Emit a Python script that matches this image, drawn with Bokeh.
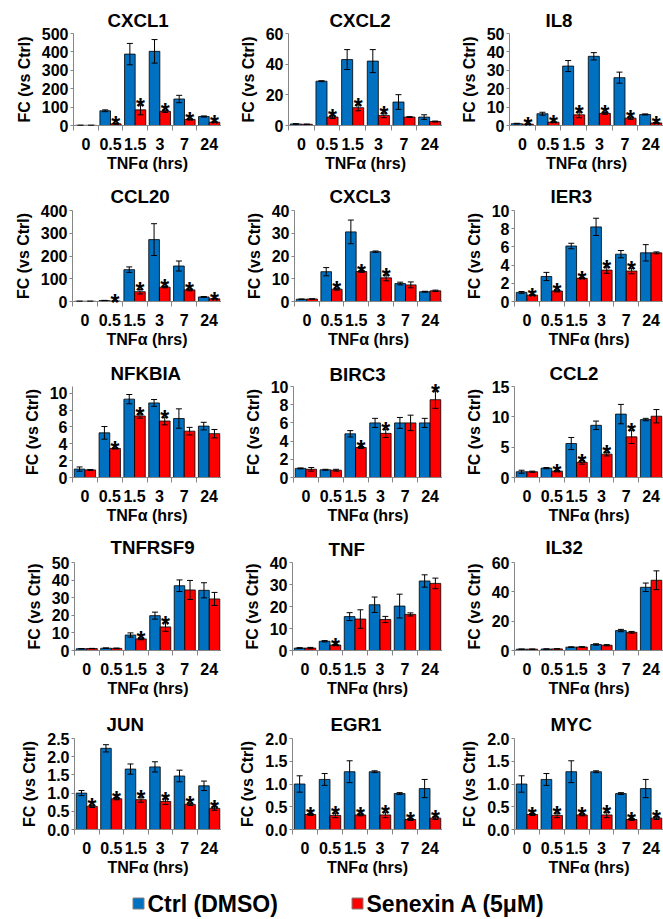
from bokeh.plotting import figure
from bokeh.models import Range1d, FixedTicker, ColumnDataSource, Whisker, TeeHead
from bokeh.layouts import column, row
from bokeh.embed import file_html
from bokeh.resources import INLINE
from bokeh.core.properties import value

# ---------------- data ----------------
times = ["0", "0.5", "1.5", "3", "7", "24"]
x_title = "TNFα (hrs)"
y_title = "FC (vs Ctrl)"
series_names = ["Ctrl (DMSO)", "Senexin A (5μM)"]

genes = ["CXCL1", "CXCL2", "IL8", "CCL20", "CXCL3", "IER3", "NFKBIA", "BIRC3", "CCL2",
         "TNFRSF9", "TNF", "IL32", "JUN", "EGR1", "MYC"]

CXCL1_ctrl = [1, 80, 388, 403, 144, 49]
CXCL1_ctrl_err = [1, 5, 58, 64, 20, 3]
CXCL1_sen = [1, 9, 85, 77, 33, 18]
CXCL1_sen_err = [0.5, 2, 27, 6, 3, 2]
CXCL1_star = [0, 1, 1, 1, 1, 1]
CXCL1_ticks = [0, 100, 200, 300, 400, 500]

CXCL2_ctrl = [1.0, 28.9, 43, 42, 15.3, 5.5]
CXCL2_ctrl_err = [0.2, 0.3, 6.5, 7.5, 4.8, 1.5]
CXCL2_sen = [0.8, 5.5, 11.6, 6.6, 5.5, 2.6]
CXCL2_sen_err = [0.1, 1, 2, 1.5, 0.3, 0.3]
CXCL2_star = [0, 1, 1, 1, 0, 0]
CXCL2_ticks = [0, 20, 40, 60]

IL8_ctrl = [1.0, 6.4, 32.3, 37.6, 26, 6]
IL8_ctrl_err = [0.2, 0.8, 3, 2, 3, 0.3]
IL8_sen = [0.7, 1.8, 5.8, 6.6, 4.0, 1.4]
IL8_sen_err = [0.1, 0.2, 1.6, 0.5, 0.6, 0.2]
IL8_star = [1, 1, 1, 1, 1, 1]
IL8_ticks = [0, 10, 20, 30, 40, 50]

CCL20_ctrl = [1, 4, 140, 272, 156, 20]
CCL20_ctrl_err = [0.3, 1, 12, 70, 22, 2]
CCL20_sen = [1, 2, 43, 63, 51, 12]
CCL20_sen_err = [0.2, 0.5, 10, 3, 4, 1]
CCL20_star = [0, 1, 1, 1, 1, 1]
CCL20_ticks = [0, 100, 200, 300, 400]

CXCL3_ctrl = [1.0, 13.1, 30.6, 21.9, 7.9, 4.3]
CXCL3_ctrl_err = [0.1, 1.8, 5.2, 0.3, 0.6, 0.2]
CXCL3_sen = [1.1, 5.4, 13.2, 10.4, 7.3, 4.7]
CXCL3_sen_err = [0.1, 0.4, 0.4, 1.3, 1.3, 0.3]
CXCL3_star = [0, 1, 1, 1, 0, 0]
CXCL3_ticks = [0, 10, 20, 30, 40]

IER3_ctrl = [1.0, 2.75, 6.1, 8.2, 5.2, 5.35]
IER3_ctrl_err = [0.1, 0.45, 0.3, 0.95, 0.4, 0.9]
IER3_sen = [0.7, 1.15, 2.55, 3.45, 3.35, 5.35]
IER3_sen_err = [0.05, 0.1, 0.05, 0.35, 0.3, 0.1]
IER3_star = [1, 1, 1, 1, 1, 0]
IER3_ticks = [0, 2, 4, 6, 8, 10]

NFKBIA_ctrl = [1.0, 5.3, 9.3, 8.85, 7.0, 6.1]
NFKBIA_ctrl_err = [0.25, 0.75, 0.55, 0.4, 1.15, 0.45]
NFKBIA_sen = [0.9, 3.45, 7.3, 6.7, 5.5, 5.2]
NFKBIA_sen_err = [0.05, 0.05, 0.25, 0.45, 0.45, 0.5]
NFKBIA_star = [0, 1, 1, 1, 0, 0]
NFKBIA_ticks = [0, 2, 4, 6, 8, 10]

BIRC3_ctrl = [1.0, 0.85, 4.8, 6.0, 6.0, 6.0]
BIRC3_ctrl_err = [0.05, 0.05, 0.35, 0.5, 0.6, 0.5]
BIRC3_sen = [0.9, 0.8, 3.3, 4.85, 6.0, 8.55]
BIRC3_sen_err = [0.2, 0.1, 0.1, 0.45, 0.85, 0.95]
BIRC3_star = [0, 0, 1, 1, 0, 1]
BIRC3_ticks = [0, 2, 4, 6, 8, 10]

CCL2_ctrl = [0.95, 1.55, 5.6, 8.6, 10.45, 9.55]
CCL2_ctrl_err = [0.25, 0.1, 1.0, 0.7, 1.6, 0.2]
CCL2_sen = [0.95, 1.05, 2.5, 3.85, 6.7, 10.1]
CCL2_sen_err = [0.1, 0.1, 0.3, 0.3, 1.1, 1.1]
CCL2_star = [0, 1, 1, 1, 1, 0]
CCL2_ticks = [0, 5, 10, 15]

TNFRSF9_ctrl = [1.0, 1.3, 8.8, 19.8, 36.8, 34.2]
TNFRSF9_ctrl_err = [0.1, 0.2, 1.2, 2.0, 3.3, 4.3]
TNFRSF9_sen = [1.1, 1.2, 6.6, 13.4, 34.4, 29.3]
TNFRSF9_sen_err = [0.1, 0.2, 0.5, 2.5, 5.4, 3.7]
TNFRSF9_star = [0, 0, 1, 1, 0, 0]
TNFRSF9_ticks = [0, 10, 20, 30, 40, 50]

TNF_ctrl = [1.1, 4.2, 15.4, 20.8, 20.2, 31.6]
TNF_ctrl_err = [0.2, 0.3, 1.8, 3.5, 5.4, 2.8]
TNF_sen = [1.1, 2.5, 14.3, 14.1, 16.4, 30.5]
TNF_sen_err = [0.3, 0.2, 4.2, 1.4, 0.7, 2.4]
TNF_star = [0, 1, 0, 0, 0, 0]
TNF_ticks = [0, 10, 20, 30, 40]

IL32_ctrl = [0.9, 1.0, 2.3, 4.1, 13.6, 43.1]
IL32_ctrl_err = [0.1, 0.1, 0.2, 0.5, 0.8, 2.9]
IL32_sen = [0.9, 1.1, 2.4, 3.6, 12.4, 47.9]
IL32_sen_err = [0.1, 0.1, 0.2, 0.4, 0.6, 6.4]
IL32_star = [0, 0, 0, 0, 0, 0]
IL32_ticks = [0, 20, 40, 60]

JUN_ctrl = [1.0, 2.23, 1.66, 1.72, 1.47, 1.2]
JUN_ctrl_err = [0.07, 0.1, 0.14, 0.14, 0.16, 0.13]
JUN_sen = [0.635, 0.845, 0.82, 0.77, 0.69, 0.58]
JUN_sen_err = [0.03, 0.03, 0.07, 0.08, 0.03, 0.05]
JUN_star = [1, 1, 1, 1, 1, 1]
JUN_ticks = [0, 0.5, 1.0, 1.5, 2.0, 2.5]

EGR1_ctrl = [1.0, 1.1, 1.27, 1.27, 0.79, 0.9]
EGR1_ctrl_err = [0.18, 0.13, 0.24, 0.02, 0.02, 0.2]
EGR1_sen = [0.33, 0.31, 0.32, 0.32, 0.22, 0.25]
EGR1_sen_err = [0.02, 0.05, 0.02, 0.06, 0.02, 0.03]
EGR1_star = [1, 1, 1, 1, 1, 1]
EGR1_ticks = [0, 0.5, 1.0, 1.5, 2.0]

MYC_ctrl = [1.0, 1.1, 1.27, 1.27, 0.79, 0.9]
MYC_ctrl_err = [0.18, 0.13, 0.24, 0.02, 0.02, 0.2]
MYC_sen = [0.33, 0.31, 0.32, 0.32, 0.22, 0.25]
MYC_sen_err = [0.02, 0.05, 0.02, 0.06, 0.02, 0.03]
MYC_star = [1, 1, 1, 1, 1, 1]
MYC_ticks = [0, 0.5, 1.0, 1.5, 2.0]

decimal_genes = ["JUN", "EGR1", "MYC"]
axis_top = {"NFKBIA": 10.8}

# ---------------- layout (page pixels) ----------------
FONT = "Liberation Sans"
BLUE = "#0070C0"
RED = "#FF0000"
AXIS_COLOR = "#868686"

col_widths = [221, 221, 221]
col_left = [0, 221, 442]
row_heights = [176, 176, 175, 177, 176]
row_top = [0, 176, 352, 527, 704]
# frame-left x, frame-top y, zero-line y, title-center y, title-left x
geom = {
    "CXCL1": (73, 33, 125, 20, 107), "CXCL2": (288, 33, 125, 20, 329), "IL8": (509, 33, 125, 20, 545),
    "CCL20": (72, 210, 301, 195, 110), "CXCL3": (294, 210, 301, 195, 329), "IER3": (514, 210, 301, 195, 550),
    "NFKBIA": (72, 386, 477, 372, 110), "BIRC3": (293, 384, 477, 372, 329), "CCL2": (514, 386, 477, 372, 549),
    "TNFRSF9": (74, 562, 653, 545, 110), "TNF": (292, 558, 650, 545, 328), "IL32": (514, 562, 653, 545, 545),
    "JUN": (74, 738, 829, 723, 106), "EGR1": (292, 738, 829, 723, 330), "MYC": (514, 738, 829, 723, 550),
}
# legend strip (pixel space inside the strip)
legend_h = 39
legend_swatch_x = [138, 357]
legend_text_x = [147, 366]
legend_y = 16
legend_swatch = 11

BAR_W = 0.43


def make_panel(gene, r, c):
    g = globals()
    ctrl, ctrl_err = g[gene + "_ctrl"], g[gene + "_ctrl_err"]
    sen, sen_err = g[gene + "_sen"], g[gene + "_sen_err"]
    star, ticks = g[gene + "_star"], g[gene + "_ticks"]
    fx, ft, fz, ty, tx = geom[gene]
    w, h = col_widths[c], row_heights[r]
    left = fx - col_left[c]
    top = ft - row_top[r]
    bottom = row_top[r] + h - fz
    ymax = axis_top.get(gene, ticks[-1])

    p = figure(width=w, height=h, x_range=Range1d(0, len(times)), y_range=Range1d(0, ymax),
               output_backend="svg", toolbar_location=None,
               min_border_left=left, min_border_right=0, min_border_top=top, min_border_bottom=bottom)
    p.background_fill_color = "white"
    p.border_fill_color = "white"
    p.outline_line_color = None
    p.grid.visible = False

    centers = [i + 0.5 for i in range(len(times))]
    src = ColumnDataSource(dict(
        xc=[x - BAR_W / 2 for x in centers], xs=[x + BAR_W / 2 for x in centers],
        ctrl=ctrl, sen=sen,
        ctrl_lo=[v - e for v, e in zip(ctrl, ctrl_err)], ctrl_hi=[v + e for v, e in zip(ctrl, ctrl_err)],
        sen_lo=[v - e for v, e in zip(sen, sen_err)], sen_hi=[v + e for v, e in zip(sen, sen_err)],
    ))
    p.vbar(x="xc", top="ctrl", bottom=0, width=BAR_W, source=src, fill_color=BLUE, line_color="black", line_width=0.8)
    p.vbar(x="xs", top="sen", bottom=0, width=BAR_W, source=src, fill_color=RED, line_color="black", line_width=0.8)
    for base, lo, hi in (("xc", "ctrl_lo", "ctrl_hi"), ("xs", "sen_lo", "sen_hi")):
        wk = Whisker(source=src, base=base, lower=lo, upper=hi, dimension="height",
                     line_color="black", line_width=1,
                     upper_head=TeeHead(size=6, line_color="black", line_width=1),
                     lower_head=TeeHead(size=6, line_color="black", line_width=1))
        wk.level = "annotation"
        p.add_layout(wk)

    star_src = ColumnDataSource(dict(
        x=[x + BAR_W / 2 for x, s in zip(centers, star) if s],
        y=[v + e for v, e, s in zip(sen, sen_err, star) if s],
        t=["*" for s in star if s],
    ))
    st = p.text(x="x", y="y", text="t", source=star_src, text_font=value(FONT), text_font_style="bold",
                text_font_size="23px", text_align="center", text_baseline="alphabetic",
                y_offset=2, text_color="black")
    st.level = "overlay"

    # x axis
    xa = p.xaxis[0]
    xa.ticker = FixedTicker(ticks=centers, minor_ticks=list(range(len(times) + 1)))
    xa.major_label_overrides = {x: t for x, t in zip(centers, times)}
    xa.major_tick_out = 0
    xa.major_tick_in = 0
    xa.minor_tick_out = 5
    xa.minor_tick_in = 0
    xa.major_label_standoff = 7
    xa.axis_label = x_title
    xa.axis_label_standoff = 2
    # y axis
    ya = p.yaxis[0]
    ya.ticker = FixedTicker(ticks=ticks, minor_ticks=[])
    if gene in decimal_genes:
        ya.major_label_overrides = {t: f"{t:.1f}" for t in ticks}
    ya.major_tick_out = 3
    ya.major_tick_in = 0
    ya.major_label_standoff = 2
    ya.axis_label = y_title
    ya.axis_label_standoff = 6
    for ax in (xa, ya):
        ax.axis_line_color = AXIS_COLOR
        ax.major_tick_line_color = AXIS_COLOR
        ax.minor_tick_line_color = AXIS_COLOR
        ax.major_label_text_font = FONT
        ax.major_label_text_font_style = "bold"
        ax.major_label_text_font_size = "16px"
        ax.major_label_text_color = "black"
        ax.axis_label_text_font = FONT
        ax.axis_label_text_font_style = "bold"
        ax.axis_label_text_font_size = "16px"
        ax.axis_label_text_color = "black"

    p.title.text = gene
    p.title.text_font = FONT
    p.title.text_font_style = "bold"
    p.title.text_font_size = "18.7px"
    p.title.text_color = "black"
    p.title.align = "left"
    p.title.offset = tx - fx
    p.title.standoff = max(0, (ft - ty) - 8)
    return p


rows = []
for r in range(5):
    figs = [make_panel(genes[r * 3 + c], r, c) for c in range(3)]
    rows.append(row(*figs))

# legend strip drawn in pixel space
lg = figure(width=663, height=legend_h, x_range=Range1d(0, 663), y_range=Range1d(0, legend_h),
            x_axis_type=None, y_axis_type=None, output_backend="svg", toolbar_location=None,
            min_border_left=0, min_border_right=0, min_border_top=0, min_border_bottom=0)
lg.outline_line_color = None
lg.grid.visible = False
lg.background_fill_color = "white"
lg.rect(x=legend_swatch_x, y=[legend_y] * 2, width=legend_swatch, height=legend_swatch,
        fill_color=[BLUE, RED], line_color="#7f7f7f", line_width=1)
lg.text(x=legend_text_x, y=[legend_y] * 2, text=series_names, text_font=value(FONT),
        text_font_style="bold", text_font_size="23px", text_baseline="middle", text_align="left",
        text_color="black")

layout = column(*rows, lg)
open("out.html", "w").write(file_html(layout, INLINE))
